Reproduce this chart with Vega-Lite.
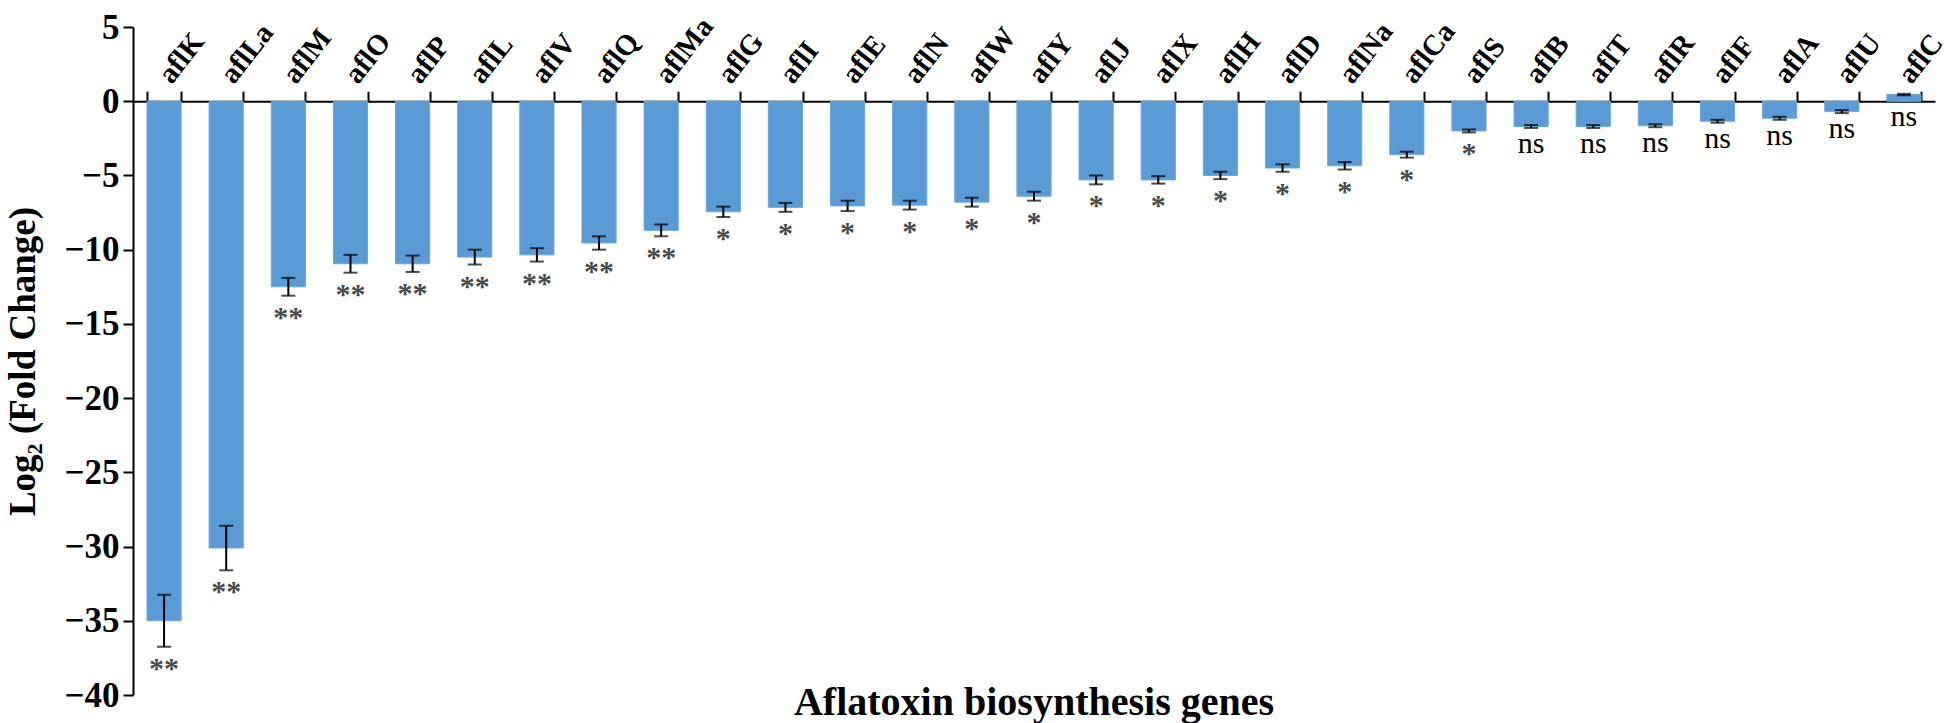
{
  "$schema": "https://vega.github.io/schema/vega-lite/v6.json",
  "autosize": {"type": "none"},
  "width": 1802,
  "height": 668,
  "padding": {"left": 133, "top": 27, "right": 22, "bottom": 28},
  "background": "white",
  "config": {
    "view": {"stroke": null},
    "font": "Liberation Serif"
  },
  "title": {
    "text": "Aflatoxin biosynthesis genes",
    "orient": "bottom",
    "anchor": "middle",
    "frame": "group",
    "font": "Liberation Serif",
    "fontSize": 40,
    "fontWeight": "bold",
    "color": "black",
    "offset": -30
  },
  "data": {
    "values": [
      {"gene": "aflK", "value": -35.0, "err": 1.75, "sig": "**"},
      {"gene": "aflLa", "value": -30.1, "err": 1.5, "sig": "**"},
      {"gene": "aflM", "value": -12.5, "err": 0.6, "sig": "**"},
      {"gene": "aflO", "value": -10.95, "err": 0.6, "sig": "**"},
      {"gene": "aflP", "value": -10.95, "err": 0.55, "sig": "**"},
      {"gene": "aflL", "value": -10.5, "err": 0.5, "sig": "**"},
      {"gene": "aflV", "value": -10.35, "err": 0.45, "sig": "**"},
      {"gene": "aflQ", "value": -9.55, "err": 0.45, "sig": "**"},
      {"gene": "aflMa", "value": -8.7, "err": 0.4, "sig": "**"},
      {"gene": "aflG", "value": -7.45, "err": 0.35, "sig": "*"},
      {"gene": "aflI", "value": -7.15, "err": 0.3, "sig": "*"},
      {"gene": "aflE", "value": -7.05, "err": 0.35, "sig": "*"},
      {"gene": "aflN", "value": -7.0, "err": 0.3, "sig": "*"},
      {"gene": "aflW", "value": -6.8, "err": 0.3, "sig": "*"},
      {"gene": "aflY", "value": -6.4, "err": 0.3, "sig": "*"},
      {"gene": "aflJ", "value": -5.3, "err": 0.3, "sig": "*"},
      {"gene": "aflX", "value": -5.3, "err": 0.25, "sig": "*"},
      {"gene": "aflH", "value": -5.0, "err": 0.25, "sig": "*"},
      {"gene": "aflD", "value": -4.5, "err": 0.25, "sig": "*"},
      {"gene": "aflNa", "value": -4.35, "err": 0.25, "sig": "*"},
      {"gene": "aflCa", "value": -3.6, "err": 0.2, "sig": "*"},
      {"gene": "aflS", "value": -2.0, "err": 0.1, "sig": "*"},
      {"gene": "aflB", "value": -1.7, "err": 0.1, "sig": "ns"},
      {"gene": "aflT", "value": -1.7, "err": 0.1, "sig": "ns"},
      {"gene": "aflR", "value": -1.65, "err": 0.1, "sig": "ns"},
      {"gene": "aflF", "value": -1.35, "err": 0.1, "sig": "ns"},
      {"gene": "aflA", "value": -1.15, "err": 0.1, "sig": "ns"},
      {"gene": "aflU", "value": -0.7, "err": 0.1, "sig": "ns"},
      {"gene": "aflC", "value": 0.45, "err": 0.05, "sig": "ns"}
    ]
  },
  "transform": [
    {"calculate": "datum.value - datum.err", "as": "lo"},
    {"calculate": "datum.value + datum.err", "as": "hi"},
    {"calculate": "min(datum.lo, 0)", "as": "labelPos"}
  ],
  "encoding": {
    "x": {
      "field": "gene",
      "type": "nominal",
      "sort": null,
      "scale": {"paddingInner": 0.45, "paddingOuter": 0.225},
      "axis": {
        "orient": "top",
        "offset": -74.2,
        "title": null,
        "tickBand": "extent",
        "tickSize": 10,
        "tickWidth": 2,
        "tickColor": "black",
        "domainColor": "black",
        "domainWidth": 2,
        "labelAngle": -52,
        "labelAlign": "left",
        "labelBaseline": "middle",
        "labelPadding": 12,
        "labelFont": "Liberation Serif",
        "labelFontSize": 29,
        "labelFontWeight": "bold",
        "labelColor": "black"
      }
    }
  },
  "layer": [
    {
      "mark": {"type": "bar", "color": "#5B9BD5", "stroke": "#6AA8DF", "strokeWidth": 1},
      "encoding": {
        "y": {
          "field": "value",
          "type": "quantitative",
          "scale": {"domain": [-40, 5], "nice": false},
          "axis": {
            "values": [5, 0, -5, -10, -15, -20, -25, -30, -35, -40],
            "grid": false,
            "tickSize": 10,
            "tickWidth": 2,
            "tickColor": "black",
            "domainColor": "black",
            "domainWidth": 2,
            "labelFont": "Liberation Serif",
            "labelFontSize": 35,
            "labelFontWeight": "bold",
            "labelColor": "black",
            "labelPadding": 4,
            "title": "Log₂ (Fold Change)",
            "titleFont": "Liberation Serif",
            "titleFontSize": 37,
            "titleFontWeight": "bold",
            "titleColor": "black",
            "titlePadding": 22
          }
        }
      }
    },
    {
      "mark": {"type": "rule", "color": "black", "strokeWidth": 2},
      "encoding": {
        "y": {"field": "lo", "type": "quantitative"},
        "y2": {"field": "hi"}
      }
    },
    {
      "mark": {"type": "tick", "color": "black", "size": 14, "thickness": 2},
      "encoding": {"y": {"field": "lo", "type": "quantitative"}}
    },
    {
      "mark": {"type": "tick", "color": "black", "size": 14, "thickness": 2},
      "encoding": {"y": {"field": "hi", "type": "quantitative"}}
    },
    {
      "transform": [{"filter": "datum.sig != 'ns'"}],
      "mark": {"type": "text", "font": "Liberation Serif", "fontSize": 30, "fontWeight": "bold", "color": "#4a4a4a", "baseline": "top", "dy": 7},
      "encoding": {
        "y": {"field": "labelPos", "type": "quantitative"},
        "text": {"field": "sig"}
      }
    },
    {
      "transform": [{"filter": "datum.sig == 'ns'"}],
      "mark": {"type": "text", "font": "Liberation Serif", "fontSize": 30, "color": "black", "baseline": "top", "dy": 1},
      "encoding": {
        "y": {"field": "labelPos", "type": "quantitative"},
        "text": {"field": "sig"}
      }
    }
  ]
}
